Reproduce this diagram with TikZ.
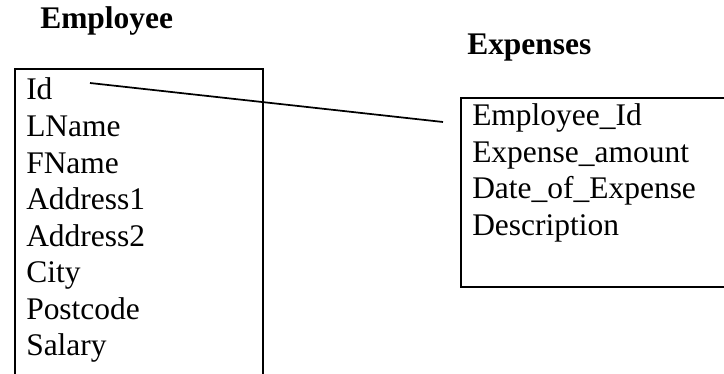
\documentclass[tikz,border=0pt]{standalone}
\usepackage{fontspec}
\setmainfont{Liberation Serif}

\begin{document}
\begin{tikzpicture}[x=0.75pt,y=-0.75pt]
\tikzset{campo/.style={anchor=base west,inner sep=0pt,font=\fontsize{23.6}{27}\selectfont}}
\tikzset{titulo/.style={campo,font=\fontsize{23.6}{27}\selectfont\bfseries}}
\tikzset{tabla/.style={draw,line width=1.8pt,anchor=north west,inner sep=0pt}}
\useasboundingbox (0,0) rectangle (724,374);
\clip (0,0) rectangle (724,374);

% Titulos
\node (tEmp) at (40,29) [titulo] {Employee};
\node (tExp) at (467,55) [titulo] {Expenses};
% Tablas
\node (emp) at (14,68) [tabla,minimum width=186pt,minimum height=240pt] {};
\node (exp) at (460,97) [tabla,minimum width=210pt,minimum height=141.75pt] {};
% campos Employee
\node (e1) at (26,100) [campo] {Id};
\node (e2) at (26,136.5) [campo] {LName};
\node (e3) at (26,173) [campo] {FName};
\node (e4) at (26,209.5) [campo] {Address1};
\node (e5) at (26,246) [campo] {Address2};
\node (e6) at (26,282.5) [campo] {City};
\node (e7) at (26,319) [campo] {Postcode};
\node (e8) at (26,355.5) [campo] {Salary};
% campos Expenses
\node (x1) at (472,126) [campo] {Employee\_Id};
\node (x2) at (472,162.5) [campo] {Expense\_amount};
\node (x3) at (472,199) [campo] {Date\_of\_Expense};
\node (x4) at (472,235.5) [campo] {Description};
% relacion
\coordinate (r1) at (90,83);
\coordinate (r2) at (443,122);

\path
(r1) edge [line width=1.3pt] (r2);

\end{tikzpicture}
\end{document}
